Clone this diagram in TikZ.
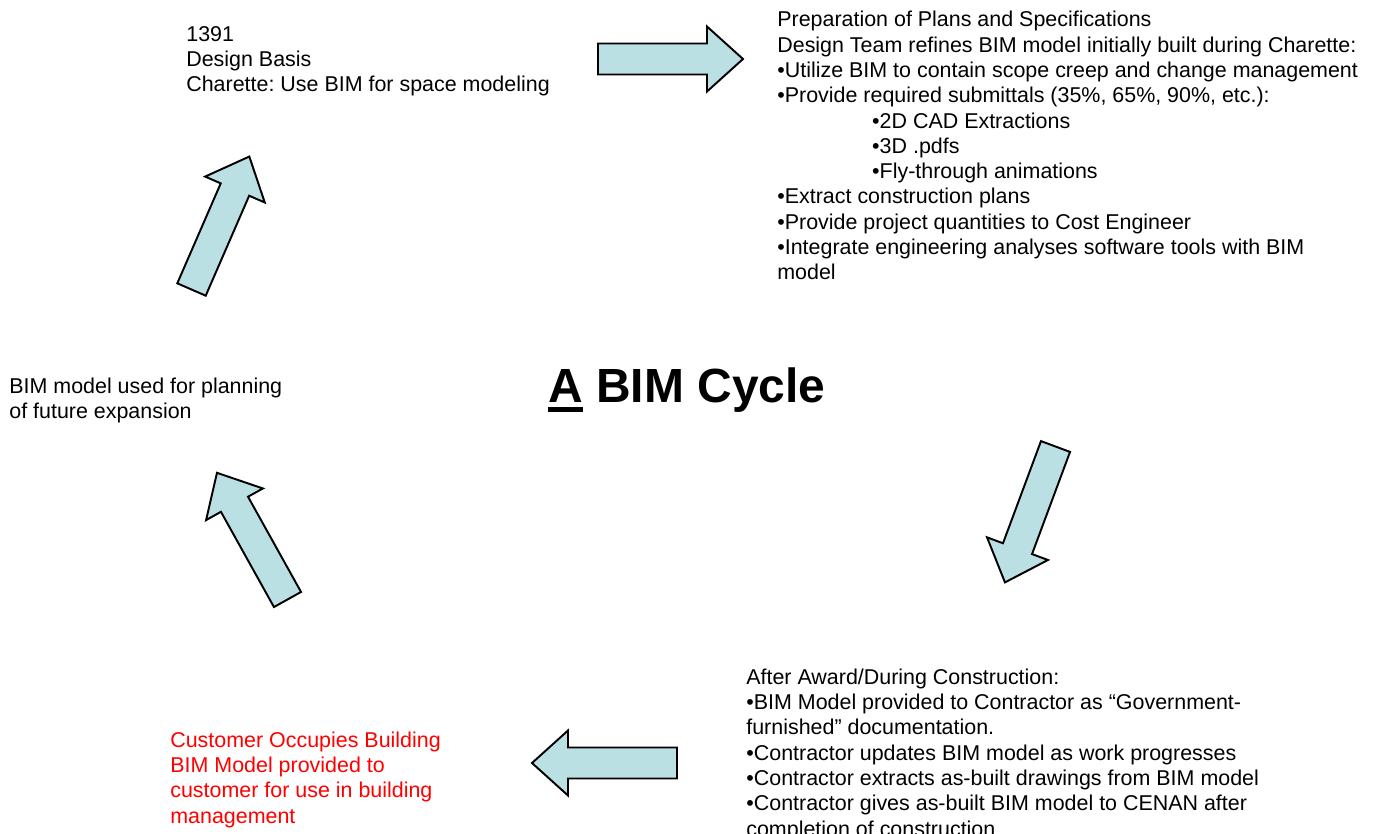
\documentclass[tikz,border=0pt]{standalone}
\usepackage{fontspec}
\setmainfont{Liberation Sans}
\frenchspacing
\definecolor{arrowblue}{RGB}{187,224,227}
\definecolor{custred}{RGB}{255,0,0}
\newcommand{\thickul}[1]{\setbox0\hbox{#1}\rlap{\rule[-5.6pt]{\wd0}{2.8pt}}\box0}

\begin{document}
\begin{tikzpicture}[x=0.02cm, y=-0.02cm,
    text block/.style={anchor=north west, inner sep=0pt, align=left, font=\fontsize{12.2}{14.4}\selectfont},
    block arrow/.style={draw=black, line width=1.1pt, fill=arrowblue, line join=miter},
    bim arrow/.pic={\draw[block arrow] (0,15.5) -- (109,15.5) -- (109,32.5) -- (145,0) -- (109,-32.5) -- (109,-15.5) -- (0,-15.5) -- cycle;}]

    \useasboundingbox (0,0) rectangle (1377,833);
    \clip (0,0) rectangle (1377,833);

    % Stages of the cycle
    \node[text block] (design) at (186,26) {1391\\Design Basis\\Charette: Use BIM for space modeling};
    \node[text block] (plans) at (777,11) {Preparation of Plans and Specifications\\
        Design Team refines BIM model initially built during Charette:\\
        •Utilize BIM to contain scope creep and change management\\
        •Provide required submittals (35\%, 65\%, 90\%, etc.):\\
        \hspace*{54pt}•2D CAD Extractions\\
        \hspace*{54pt}•3D .pdfs\\
        \hspace*{54pt}•Fly-through animations\\
        •Extract construction plans\\
        •Provide project quantities to Cost Engineer\\
        •Integrate engineering analyses software tools with BIM\\
        model};
    \node[text block] (build) at (746,668.5) {After Award/During Construction:\\
        •BIM Model provided to Contractor as “Government-\\
        furnished” documentation.\\
        •Contractor updates BIM model as work progresses\\
        •Contractor extracts as-built drawings from BIM model\\
        •Contractor gives as-built BIM model to CENAN after\\
        completion of construction};
    \node[text block, text=custred] (occupy) at (170,731.5) {Customer Occupies Building\\
        BIM Model provided to\\
        customer for use in building\\
        management};
    \node[text block] (expand) at (9,377.5) {BIM model used for planning\\of future expansion};

    % Title
    \node[anchor=base west, inner sep=0pt, font=\fontsize{27.3}{32}\selectfont\bfseries] (title) at (548,402) {\thickul{A}\ BIM Cycle};

    % Block arrows
    \pic[rotate=0] at (598,59) {bim arrow};
    \pic[rotate=249.6] at (1055.5,446.5) {bim arrow};
    \pic[rotate=180] at (677,763) {bim arrow};
    \pic[rotate=119.1] at (287.5,599.5) {bim arrow};
    \pic[rotate=66.5] at (191.5,289.5) {bim arrow};

\end{tikzpicture}
\end{document}
